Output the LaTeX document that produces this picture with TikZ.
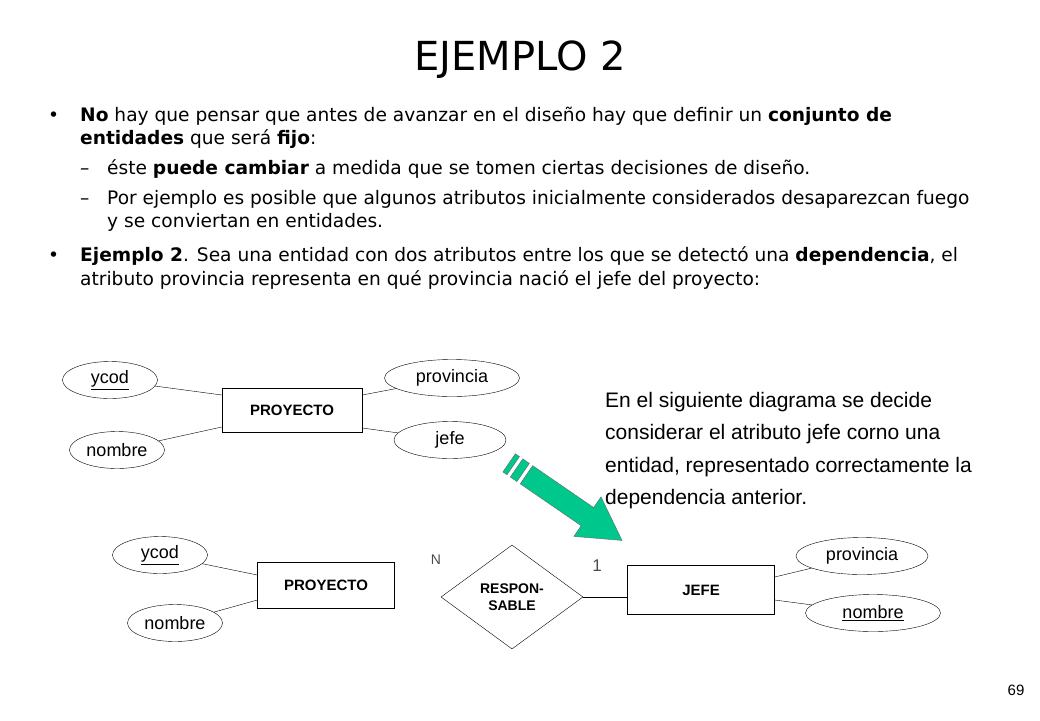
\documentclass[tikz,border=0pt]{standalone}
\usepackage{fontspec}
\setmainfont{DejaVu Sans}
\newfontfamily\arialfont{Liberation Sans}
\usetikzlibrary{shapes.geometric,positioning}
\definecolor{arrowgreen}{RGB}{0,200,140}
\tikzset{
    %Define style for attributes
    attr/.style={
           ellipse,
           draw=black, thin,
           inner sep=0pt,
           minimum width=95pt,
           minimum height=37pt,
           font=\arialfont\fontsize{18}{18}\selectfont},
    %Define style for entities
    entity/.style={
           rectangle,
           draw=black, thin,
           minimum width=140pt,
           minimum height=46pt,
           font=\arialfont\bfseries\fontsize{15}{15}\selectfont},
    %Define style for relationships
    rel/.style={
           diamond,
           draw=black, thin,
           inner sep=0pt,
           minimum width=142pt,
           minimum height=104pt,
           align=center,
           font=\arialfont\bfseries\fontsize{14}{17}\selectfont},
    % Define line style
    link/.style={
           thin},
    body/.style={
           anchor=base west,
           inner sep=0pt,
           font=\fontsize{18.6}{20}\selectfont},
    side/.style={
           anchor=base west,
           inner sep=0pt,
           font=\arialfont\fontsize{21}{24}\selectfont}
}
\begin{document}
\begin{tikzpicture}[x=1pt,y=-1pt]
 \useasboundingbox (0,0) rectangle (1040,720);
 %title and text
    \node[font=\fontsize{40}{44}\selectfont] (title) at (520,60) {EJEMPLO 2};
    \node[body] (b1) at (48,121) {\textbullet};
    \node[body] (l1) at (80,121) {\textbf{No} hay que pensar que antes de avanzar en el diseño hay que definir un \textbf{conjunto de}};
    \node[body] (l2) at (80,144) {\textbf{entidades} que será \textbf{fijo}:};
    \node[body] (d1) at (80,174) {--};
    \node[body] (l3) at (107,174) {éste \textbf{puede cambiar} a medida que se tomen ciertas decisiones de diseño.};
    \node[body] (d2) at (80,204) {--};
    \node[body] (l4) at (107,204) {Por ejemplo es posible que algunos atributos inicialmente considerados desaparezcan fuego};
    \node[body] (l5) at (107,227) {y se conviertan en entidades.};
    \node[body] (b2) at (48,261) {\textbullet};
    \node[body] (l6) at (80,261) {\textbf{Ejemplo 2}. Sea una entidad con dos atributos entre los que se detectó una \textbf{dependencia}, el};
    \node[body] (l7) at (80,285) {atributo provincia representa en qué provincia nació el jefe del proyecto:};
    \node[side] (s1) at (605,407) {En el siguiente diagrama se decide};
    \node[side] (s2) at (605,439) {considerar el atributo jefe corno una};
    \node[side] (s3) at (605,472) {entidad, representado correctamente la};
    \node[side] (s4) at (605,504) {dependencia anterior.};
    \node[font=\arialfont\fontsize{15}{15}\selectfont] (pg) at (1016,690) {69};
 %first diagram
    \node[entity, minimum width=140pt, minimum height=44pt] (prj) at (292,410) {PROYECTO};
    \node[attr] (ycod) at (110,380) {\underline{ycod}};
    \node[attr] (nom) at (117,450) {nombre};
    \node[attr, minimum width=135pt] (prov) at (452,378) {provincia};
    \node[attr, minimum width=112pt] (jefe) at (450,440) {jefe};
    \draw[link] (ycod) -- ([yshift=15pt]prj.west);
    \draw[link] (nom) -- ([yshift=-17pt]prj.west);
    \draw[link] (prov) -- ([yshift=15pt]prj.east);
    \draw[link] (jefe) -- ([yshift=-18pt]prj.east);
 %green arrow
    \begin{scope}[shift={(505,460)}, rotate=-34.5]
      \fill[arrowgreen, draw=black!60, thin] (26,-11) -- (100,-11) -- (100,-24) -- (142,0) -- (100,24) -- (100,11) -- (26,11) -- cycle;
      \fill[arrowgreen, draw=black!60, thin] (14,-11) rectangle (22,11);
      \fill[arrowgreen, draw=black!60, thin] (5,-11) rectangle (10,11);
    \end{scope}
 %second diagram
    \node[entity, minimum width=137pt] (prj2) at (326,585) {PROYECTO};
    \node[rel] (resp) at (512,597) {RESPON-\\SABLE};
    \node[entity, minimum width=147pt, minimum height=49pt] (jf) at (701,590) {JEFE};
    \node[attr] (ycod2) at (160,555) {\underline{ycod}};
    \node[attr] (nom2) at (175,623) {nombre};
    \node[attr, minimum width=132pt] (prov2) at (862,556) {provincia};
    \node[attr, minimum width=135pt] (nom3) at (873,613) {\underline{nombre}};
    \draw[link] (ycod2) -- ([yshift=10pt]prj2.west);
    \draw[link] (nom2) -- ([yshift=-15pt]prj2.west);
    \draw[link, double, double distance=1.5pt] (prj2.east |- resp.west) -- (resp.west);
    \draw[link] (resp.east) -- (jf.west |- resp.east);
    \draw[link] (prov2) -- ([yshift=13pt]jf.east);
    \draw[link] (nom3) -- ([yshift=-10pt]jf.east);
    \node[font=\arialfont\fontsize{14}{14}\selectfont, text=black!70] (n) at (436,560) {N};
    \node[font=\arialfont\fontsize{17}{17}\selectfont, text=black!70] (one) at (597,566) {1};
\end{tikzpicture}
\end{document}
